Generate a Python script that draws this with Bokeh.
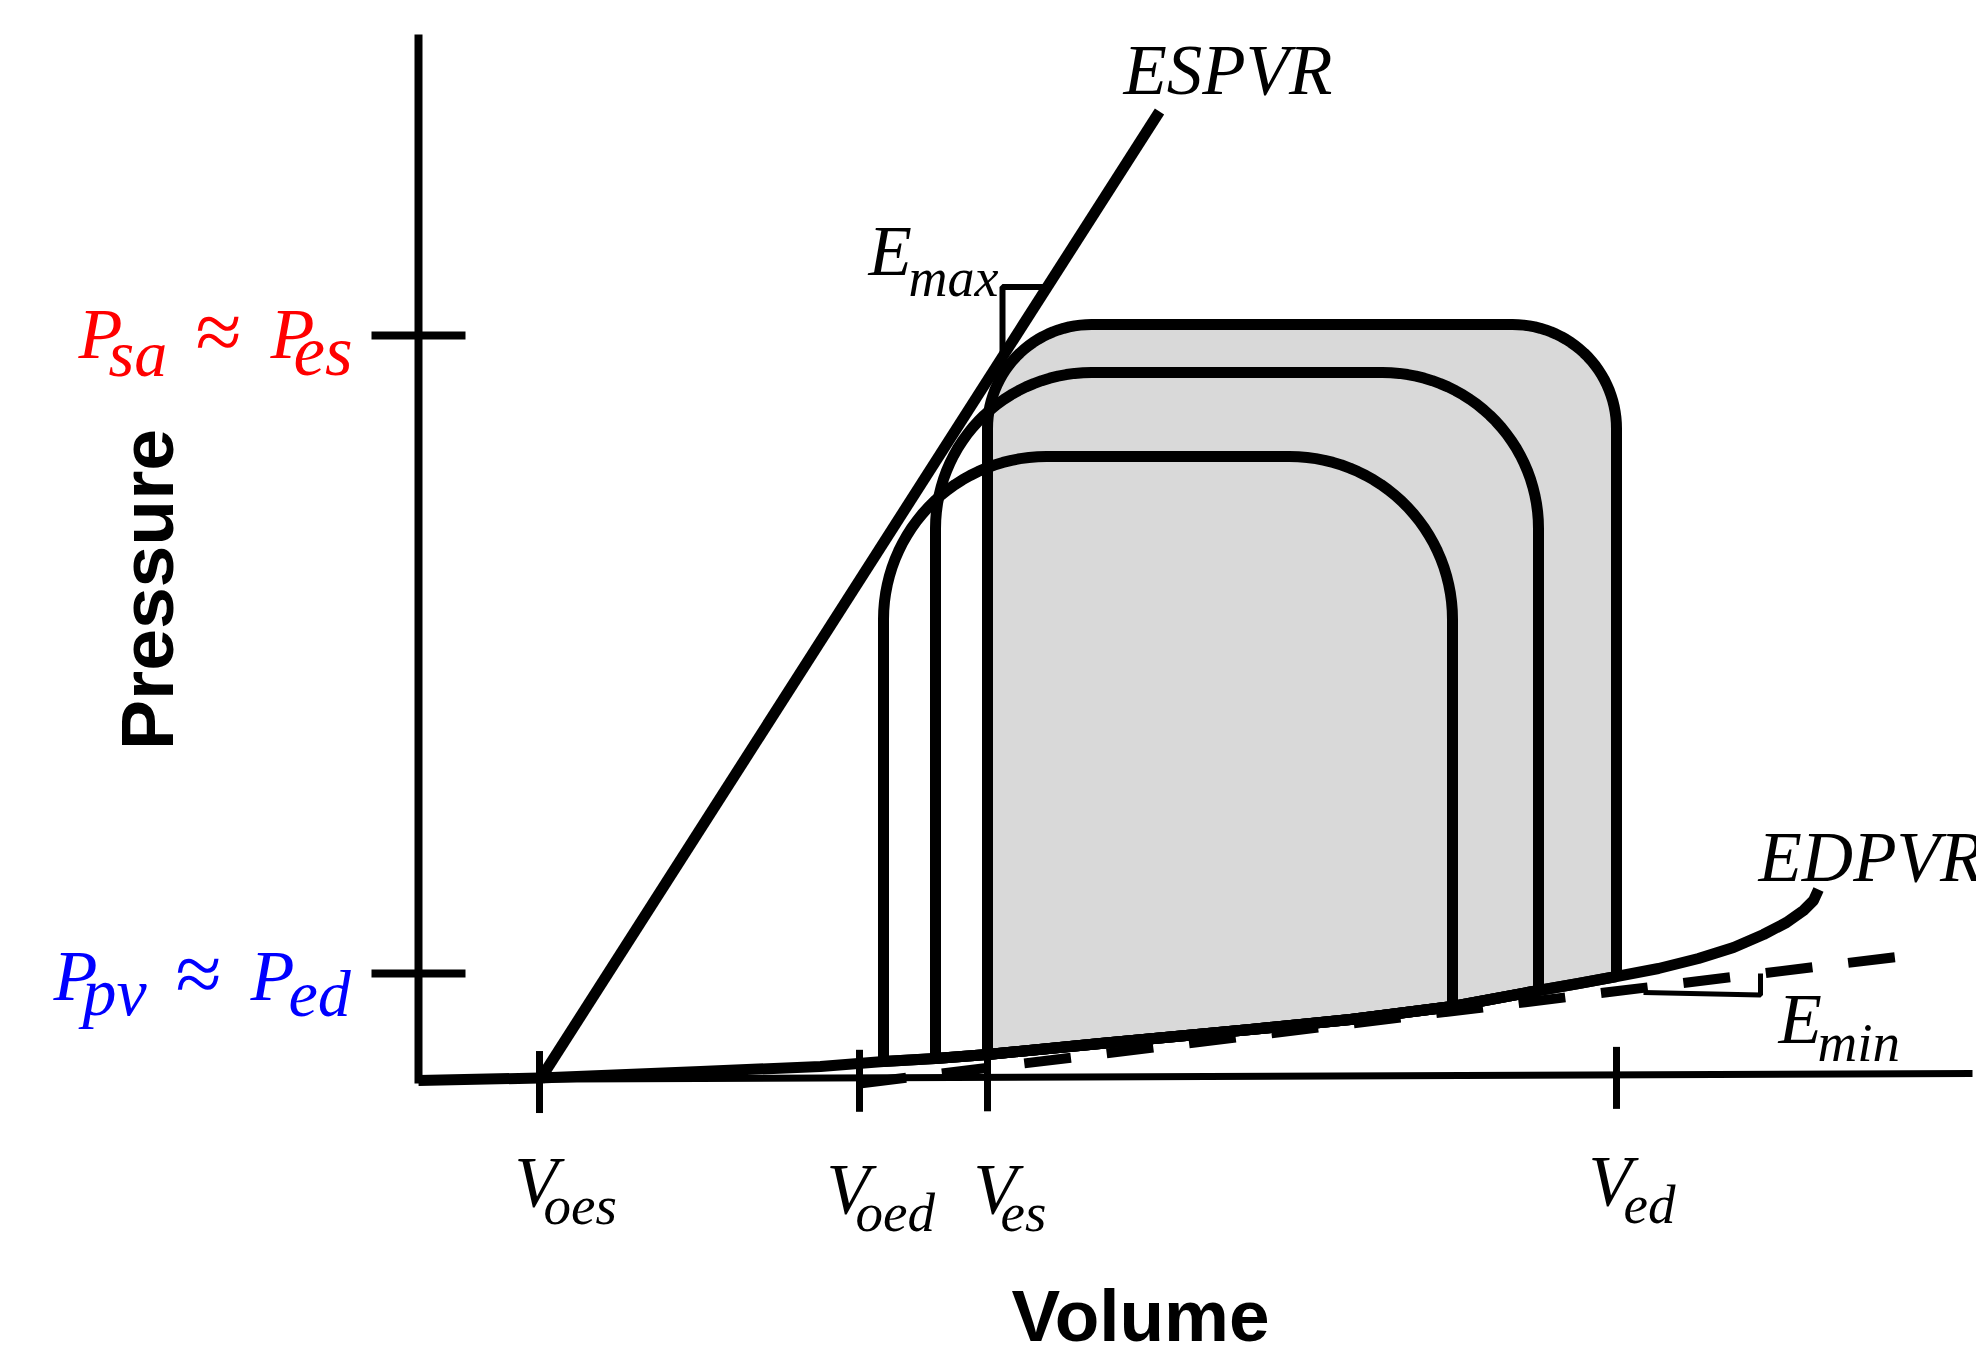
import numpy as np
from bokeh.plotting import figure
from bokeh.models import Range1d
from bokeh.embed import file_html
from bokeh.resources import INLINE
from bokeh.core.properties import value

# ---------------- data (schematic units) ----------------
volume_tick_names = ["oes", "oed", "es", "ed"]
volume_tick_values = [12.1, 44.1, 56.9, 119.8]      # V_oes, V_oed, V_es, V_ed
pressure_tick_values = [74.5, 10.7]                 # P_es, P_ed

espvr_v = [12.1, 74.1]
espvr_p = [0.0, 96.9]

edpvr_v = [0.0, 12.1, 28.2, 40.2, 46.5, 51.7, 56.9, 68.2, 83.2, 93.2,
           103.4, 112.0, 116.0, 119.8, 124.0, 128.0, 131.5, 134.5, 136.8,
           138.5, 139.5, 140.0]
edpvr_p = [0.0, 0.25, 0.9, 1.4, 1.9, 2.2, 2.6, 3.7, 5.1, 6.1,
           7.4, 9.0, 9.7, 10.4, 11.2, 12.2, 13.3, 14.6, 15.8,
           17.0, 18.0, 19.1]

emin_v = [44.1, 148.2]
emin_p = [-0.3, 12.4]

loop_v_es = [56.9, 51.7, 46.5]
loop_v_ed = [119.8, 112.0, 103.4]
loop_p_max = [75.6, 70.8, 62.4]

axis_v = [0.0, 155.4]
axis_p = [0.1, 0.7]
p_axis_top = 104.6

# ---------------- layout / style ----------------
corner_r = [10.4, 15.6, 16.3]
FILL = "#d9d9d9"
SERIF = value("Liberation Serif")
SANS = value("Liberation Sans")
PX = 10.0  # screen pixels per unit on both axes

p = figure(width=1976, height=1355,
           x_range=Range1d(-41.8, -41.8 + 1976 / PX),
           y_range=Range1d(-27.5, -27.5 + 1355 / PX),
           output_backend="svg", toolbar_location=None, min_border=0,
           x_axis_location=None, y_axis_location=None)
p.grid.visible = False
p.outline_line_color = None
p.background_fill_color = "white"
p.border_fill_color = "white"


def edp(v):
    return float(np.interp(v, edpvr_v, edpvr_p))


def loop_path(vl, vr, pt, r):
    xs, ys = [vl], [edp(vl)]
    th = np.linspace(np.pi, np.pi / 2, 30)
    xs += list(vl + r + r * np.cos(th)); ys += list(pt - r + r * np.sin(th))
    th = np.linspace(np.pi / 2, 0, 30)
    xs += list(vr - r + r * np.cos(th)); ys += list(pt - r + r * np.sin(th))
    xs.append(vr); ys.append(edp(vr))
    for v, pp in reversed(list(zip(edpvr_v, edpvr_p))):
        if vl < v < vr:
            xs.append(v); ys.append(pp)
    xs.append(vl); ys.append(edp(vl))
    return xs, ys


paths = [loop_path(a, b, c, r) for a, b, c, r in zip(loop_v_es, loop_v_ed, loop_p_max, corner_r)]

# shaded biggest loop
p.patch(paths[0][0], paths[0][1], fill_color=FILL, line_color=None)

# axes
p.line(axis_v, axis_p, line_color="black", line_width=7)
p.line([0, 0], [axis_p[0] - 0.4, p_axis_top], line_color="black", line_width=8)


def axis_at(v):
    return float(np.interp(v, axis_v, axis_p))


for v in volume_tick_values:
    a = axis_at(v)
    p.line([v, v], [a - 3.4, a + 2.8], line_color="black", line_width=7)
for pv in pressure_tick_values:
    p.line([-4.7, 4.7], [pv, pv], line_color="black", line_width=8)

# E_min line (dashed)
p.line(emin_v, emin_p, line_color="black", line_width=10, line_dash="47 36")

# EDPVR
p.line(edpvr_v, edpvr_p, line_color="black", line_width=11, line_join="round")

# loops
for xs, ys in paths:
    p.line(xs, ys, line_color="black", line_width=11)

# ESPVR
p.line(espvr_v, espvr_p, line_color="black", line_width=11)

# E_max slope marker
slope = (espvr_p[1] - espvr_p[0]) / (espvr_v[1] - espvr_v[0])
mv = 58.4
mp0 = espvr_p[0] + slope * (mv - espvr_v[0])
mp1 = mp0 + 7.0
mv1 = espvr_v[0] + (mp1 - espvr_p[0]) / slope
p.line([mv, mv, mv1], [mp0, mp1, mp1], line_color="black", line_width=6)

# E_min slope marker
eslope = (emin_p[1] - emin_p[0]) / (emin_v[1] - emin_v[0])
nv = 134.2
np1 = emin_p[0] + eslope * (nv - emin_v[0])
p.line([122.5, nv, nv], [8.8, 8.55, np1], line_color="black", line_width=5)

BASE_FIX = 0.37  # em correction so the given point is the glyph baseline


def txt(x, y, s, size, color="black", font=SERIF, style="italic", align="left", angle=0.0):
    shift = BASE_FIX * size / PX
    if angle == 0.0:
        y = y + shift
    else:
        x = x - shift
    p.text(x=[x], y=[y], text=[s], text_font=font, text_font_style=style,
           text_font_size=f"{size}px", text_color=color, text_align=align,
           text_baseline="alphabetic", angle=angle)


MAIN = 71
SUB = 55

# volume tick labels
v_main_dx = [-2.5, -3.3, -1.4, -2.8]
v_main_dy = [-12.8, -13.5, -13.5, -12.7]
v_sub_dx = [0.4, -0.4, 1.3, 0.7]
for name, v, dx, dy, sdx in zip(volume_tick_names, volume_tick_values, v_main_dx, v_main_dy, v_sub_dx):
    txt(v + dx, dy, "V", MAIN)
    txt(v + sdx, dy - 1.75, name, SUB)

# pressure labels
RED, BLUE = "#ff0000", "#0000ff"
pe = pressure_tick_values[0]
txt(-34.0, pe - 2.5, "P", 72, RED)
txt(-31.0, pe - 4.2, "sa", 66, RED)
txt(-22.3, pe - 2.7, "≈", 84, RED, style="normal")
txt(-14.8, pe - 2.5, "P", 72, RED)
txt(-12.5, pe - 4.2, "es", 71, RED)

pd = pressure_tick_values[1]
txt(-36.5, pd - 2.9, "P", 72, BLUE)
txt(-33.6, pd - 4.4, "pv", 68, BLUE)
txt(-24.3, pd - 3.1, "≈", 84, BLUE, style="normal")
txt(-16.8, pd - 2.9, "P", 72, BLUE)
txt(-13.0, pd - 4.4, "ed", 66, BLUE)

# curve labels
txt(70.5, 98.4, "ESPVR", MAIN)
txt(134.0, 19.7, "EDPVR", MAIN)
txt(45.0, 80.3, "E", MAIN)
txt(49.0, 78.3, "max", 54)
txt(136.0, 3.5, "E", MAIN)
txt(139.9, 1.8, "min", 55)

# axis titles
txt(-24.4, 49.1, "Pressure", 75, font=SANS, style="bold", align="center", angle=np.pi / 2)
txt(72.2, -26.2, "Volume", 73, font=SANS, style="bold", align="center")

open("out.html", "w").write(file_html(p, INLINE))
